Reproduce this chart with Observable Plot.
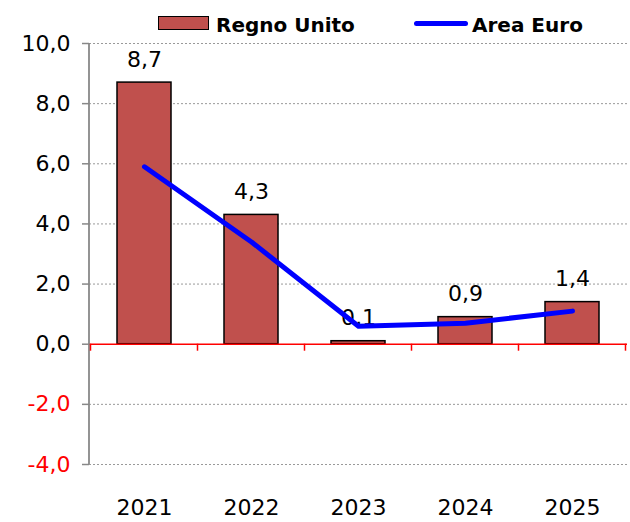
<!DOCTYPE html>
<html><head><meta charset="utf-8">
<script src="https://cdn.jsdelivr.net/npm/d3@7"></script>
<script src="https://cdn.jsdelivr.net/npm/@observablehq/plot@0.6"></script>
<style>
body{margin:0;background:#fff;}
#wrap{position:relative;width:630px;height:522px;font-family:"DejaVu Sans",sans-serif;}
.legtxt{position:absolute;font-weight:bold;font-size:20px;line-height:20px;color:#000;white-space:nowrap;}
.sw-bar{position:absolute;left:158px;top:16px;width:49px;height:12px;background:#C0504D;border:1.5px solid #000;}
.sw-line{position:absolute;left:414px;top:20.5px;width:54px;height:5px;background:#0000FF;border-radius:3px;}
</style></head><body>
<div id="wrap"></div>
<script>
const years = ["2021", "2022", "2023", "2024", "2025"];
const regnoUnito = [8.7, 4.3, 0.1, 0.9, 1.4];
const areaEuro = [5.9, 3.4, 0.6, 0.7, 1.1];
const yTicks = [-4, -2, 0, 2, 4, 6, 8, 10];
const seriesNames = ["Regno Unito", "Area Euro"];

const barData = years.map((y, i) => ({year: y, value: regnoUnito[i]}));
const lineData = years.map((y, i) => ({year: y, value: areaEuro[i]}));
const fmt = d => d.toFixed(1).replace(".", ",");

// y-axis line and red category boundary ticks on the zero line
function frameBits(index, scales, values, dims) {
  const x = scales.x, y = scales.y;
  const g = d3.create("svg:g");
  const left = dims.marginLeft;
  g.append("line").attr("x1", left).attr("x2", left)
    .attr("y1", y(d3.max(yTicks))).attr("y2", y(d3.min(yTicks)))
    .attr("stroke", "#888").attr("stroke-width", 1.8);
  const step = x.step(), bw = x.bandwidth();
  const bounds = years.map(d => x(d) - (step - bw) / 2);
  bounds.push(x(years[years.length - 1]) + bw + (step - bw) / 2);
  for (const b of bounds) {
    g.append("line").attr("x1", b).attr("x2", b)
      .attr("y1", y(0)).attr("y2", y(0) + 7)
      .attr("stroke", "red").attr("stroke-width", 1.5);
  }
  return g.node();
}

const FS = 22;
const chart = Plot.plot({
  width: 630,
  height: 522,
  marginLeft: 89,
  marginRight: 3,
  marginTop: 43,
  marginBottom: 58,
  style: {fontFamily: "DejaVu Sans, sans-serif", fontSize: FS + "px", background: "#fff", color: "#000"},
  x: {domain: years, paddingInner: 0.5, paddingOuter: 0.25},
  y: {domain: [d3.min(yTicks), d3.max(yTicks)]},
  marks: [
    Plot.ruleY(yTicks.filter(d => d !== 0), {stroke: "#999", strokeWidth: 1, strokeDasharray: "2,2"}),
    Plot.barY(barData, {x: "year", y: "value", fill: "#C0504D", stroke: "#000", strokeWidth: 1.5}),
    Plot.ruleY([0], {stroke: "red", strokeWidth: 1.5}),
    frameBits,
    Plot.axisY(yTicks.filter(d => d >= 0), {label: null, tickFormat: fmt, tickSize: 7, tickPadding: 12, stroke: "#888", fill: "#000", fontSize: FS, strokeWidth: 1.5}),
    Plot.axisY(yTicks.filter(d => d < 0), {label: null, tickFormat: fmt, tickSize: 7, tickPadding: 12, stroke: "#888", fill: "red", fontSize: FS, strokeWidth: 1.5}),
    Plot.axisX({label: null, tickSize: 0, tickPadding: 35, fontSize: FS, fill: "#000"}),
    Plot.text(barData, {x: "year", y: "value", text: d => fmt(d.value), dy: -16, lineAnchor: "bottom", fontSize: FS, fill: "#000"}),
    Plot.line(lineData, {x: "year", y: "value", stroke: "#0000FF", strokeWidth: 5, strokeLinecap: "round", strokeLinejoin: "round"})
  ]
});

const wrap = document.getElementById("wrap");
wrap.appendChild(chart);
const sw1 = document.createElement("div"); sw1.className = "sw-bar"; wrap.appendChild(sw1);
const t1 = document.createElement("div"); t1.className = "legtxt"; t1.style.left = "216px"; t1.style.top = "15px"; t1.textContent = seriesNames[0]; wrap.appendChild(t1);
const sw2 = document.createElement("div"); sw2.className = "sw-line"; wrap.appendChild(sw2);
const t2 = document.createElement("div"); t2.className = "legtxt"; t2.style.left = "472px"; t2.style.top = "15px"; t2.textContent = seriesNames[1]; wrap.appendChild(t2);
</script>
</body></html>
